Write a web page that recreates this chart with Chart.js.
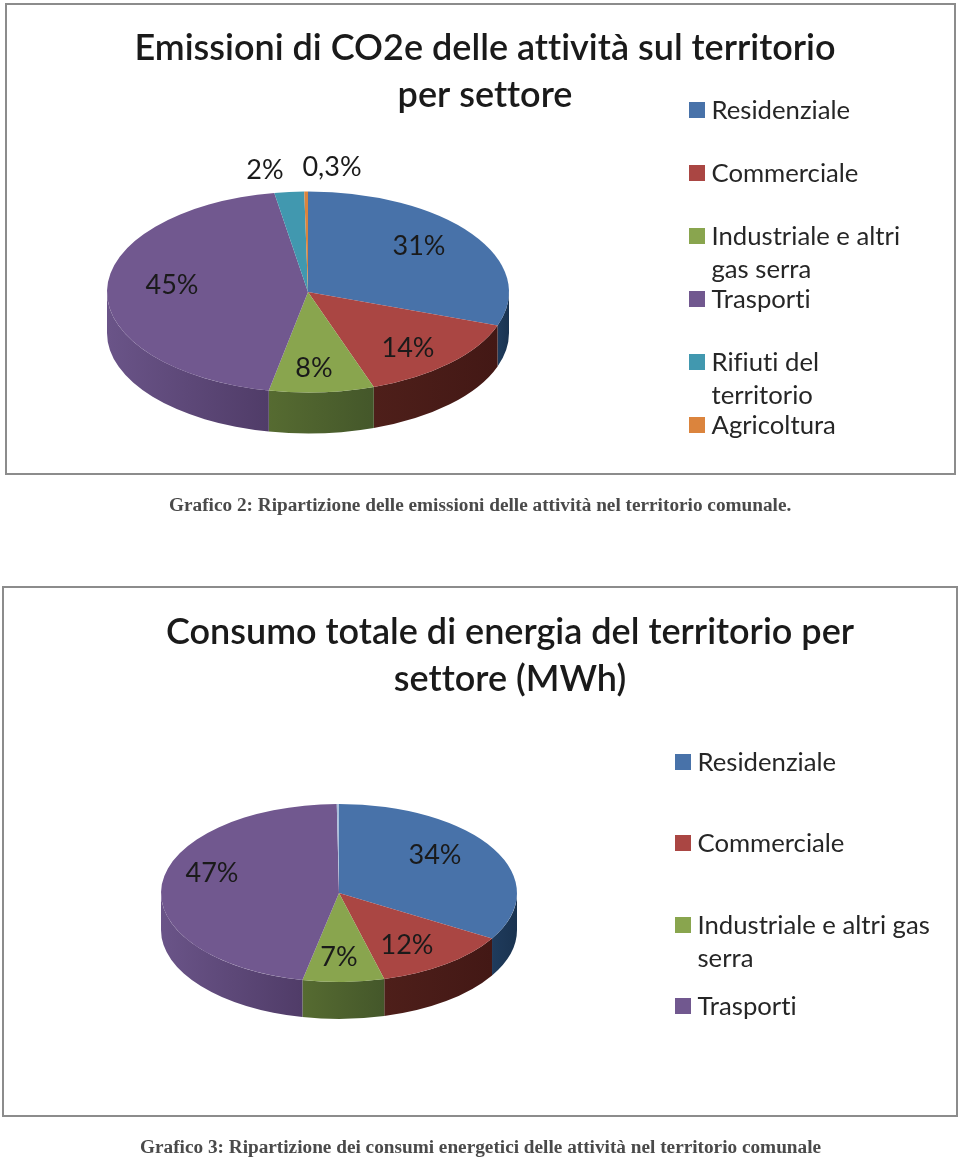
<!DOCTYPE html>
<html lang="it">
<head>
<meta charset="utf-8">
<title>Emissioni e consumi per settore</title>
<script src="https://cdn.jsdelivr.net/npm/chart.js@4/dist/chart.umd.min.js"></script>
<style>
    html, body { margin: 0; padding: 0; background: #fff; }
    body { position: relative; width: 960px; height: 1157px; overflow: hidden; }
    canvas { position: absolute; left: 0; }
    #emissioniChart { top: 0; }
    #consumiChart { top: 580px; }
    .frame { position: absolute; box-sizing: border-box; border: 2px solid #8c8c8c; }
    #frame1 { left: 5px; top: 3px; width: 951px; height: 472px; }
    #frame2 { left: 2px; top: 586px; width: 956px; height: 531px; }
    .caption {
        position: absolute; left: 0; margin: 0; white-space: nowrap;
        font: bold 19.25px "Liberation Serif", serif; color: #4a4a4a;
    }
    #caption1 { left: 169px; top: 494px; }
    #caption2 { left: 140px; top: 1136px; }
</style>
</head>
<body>
<div class="frame" id="frame1"></div>
<div class="frame" id="frame2"></div>
<canvas id="emissioniChart" width="960" height="580"></canvas>
<canvas id="consumiChart" width="960" height="577"></canvas>
<p class="caption" id="caption1">Grafico 2: Ripartizione delle emissioni delle attività nel territorio comunale.</p>
<p class="caption" id="caption2">Grafico 3: Ripartizione dei consumi energetici delle attività nel territorio comunale</p>

<script>
// Dati (valori stimati dalle fette, arrotondati danno le etichette)
const emissioniLegend = [['Residenziale'], ['Commerciale'], ['Industriale e altri', 'gas serra'], ['Trasporti'], ['Rifiuti del', 'territorio'], ['Agricoltura']];
const emissioniValues = [30.6, 14.4, 8.49, 44.5, 2.4, 0.3];
const emissioniLabels = ['31%', '14%', '8%', '45%', '2%', '0,3%'];
const emissioniTitle = ['Emissioni di CO2e delle attività sul territorio', 'per settore'];

const consumiLegend = [['Residenziale'], ['Commerciale'], ['Industriale e altri gas', 'serra'], ['Trasporti']];
const consumiValues = [33.6, 12.4, 7.4, 46.6, 0.2]; // l'ultima fetta sottilissima non ha voce in legenda
const consumiLabels = ['34%', '12%', '7%', '47%'];
const consumiTitle = ['Consumo totale di energia del territorio per', 'settore (MWh)'];

const sliceColors = ['#4872a9', '#aa4643', '#89a54e', '#71588f', '#4198af', '#db843d'];
const wallColors = [
    ['#1f3b5c', '#1a3350'], ['#4e1f1a', '#431815'], ['#566b31', '#44572a'],
    ['#6a5488', '#503c68'], ['#1f5a6c', '#1a4c5c'], ['#8a5020', '#7a4419']
];
const consumiColors = ['#4872a9', '#aa4643', '#89a54e', '#71588f', '#a9bfdc'];

const FONT = 'Lato, "Open Sans", sans-serif';

// Schiaccia la torta in un'ellisse e disegna il bordo 3D sotto le fette
const pie3dPlugin = {
    id: 'pie3d',
    afterLayout(chart, args, opts) {
        const title = chart.titleBlock;
        title.left = opts.titleX - 470;
        title.right = opts.titleX + 470;
        title.top = opts.titleY;
    },
    beforeDraw(chart) {
        // niente legature "tt" e "ti" di Lato
        chart.ctx.textRendering = 'optimizeSpeed';
    },
    beforeDatasetsDraw(chart, args, opts) {
        const ctx = chart.ctx;
        const arcs = chart.getDatasetMeta(0).data;
        const c = arcs[0];
        const rx = c.outerRadius;
        const ry = rx * opts.ratio;

        arcs.forEach((arc, i) => {
            const a0 = Math.max(arc.startAngle, 0);
            const a1 = Math.min(arc.endAngle, Math.PI);
            if (a1 <= a0) return;
            const x0 = opts.cx + rx * Math.cos(a1);
            const x1 = opts.cx + rx * Math.cos(a0);
            const colors = opts.walls[i % opts.walls.length];
            const grad = ctx.createLinearGradient(x0, 0, x1, 0);
            grad.addColorStop(0, colors[0]);
            grad.addColorStop(1, colors[1]);
            ctx.beginPath();
            ctx.ellipse(opts.cx, opts.cy, rx, ry, 0, a0, a1);
            ctx.ellipse(opts.cx, opts.cy + opts.depth, rx, ry, 0, a1, a0, true);
            ctx.closePath();
            ctx.fillStyle = grad;
            ctx.fill();
        });

        ctx.save();
        ctx.translate(opts.cx, opts.cy);
        ctx.scale(1, opts.ratio);
        ctx.translate(-c.x, -c.y);
    },
    afterDatasetsDraw(chart, args, opts) {
        const ctx = chart.ctx;
        ctx.restore();

        // Percentuali
        ctx.save();
        ctx.font = opts.labelFont;
        ctx.fillStyle = '#1a1a1a';
        ctx.textAlign = 'center';
        ctx.textBaseline = 'middle';
        opts.labelPos.forEach((pos, i) => {
            ctx.fillText(opts.labels[i], pos[0], pos[1]);
        });
        ctx.restore();

        // Legenda: le righe a capo non spostano la voce successiva
        ctx.save();
        ctx.font = opts.legendFont;
        ctx.textAlign = 'left';
        ctx.textBaseline = 'middle';
        opts.legendLines.forEach((lines, i) => {
            const y = opts.legendY[i];
            ctx.fillStyle = chart.data.datasets[0].backgroundColor[i];
            ctx.fillRect(opts.legendX, y - 8, 16, 16);
            ctx.fillStyle = '#262626';
            lines.forEach((line, k) => {
                ctx.fillText(line, opts.legendX + 22.5, y + 1 + k * 33);
            });
        });
        ctx.restore();
    }
};

function makePie(canvasId, legendLines, values, labels, colors, titleLines, pieOpts) {
    new Chart(document.getElementById(canvasId), {
        type: 'pie',
        data: {
            labels: legendLines.map(lines => lines.join(' ')),
            datasets: [{
                data: values,
                backgroundColor: colors,
                borderWidth: 0,
                radius: pieOpts.radius
            }]
        },
        options: {
            responsive: false,
            animation: false,
            layout: { padding: 0 },
            plugins: {
                legend: { display: false },
                tooltip: { enabled: false },
                title: {
                    display: true,
                    text: titleLines,
                    color: '#1a1a1a',
                    padding: 0,
                    font: { family: FONT, size: 36, weight: '600', lineHeight: 47 / 36 }
                },
                pie3d: Object.assign({ walls: wallColors, legendLines: legendLines, labels: labels }, pieOpts)
            }
        },
        plugins: [pie3dPlugin]
    });
}

document.addEventListener('DOMContentLoaded', function () {
    makePie('emissioniChart', emissioniLegend, emissioniValues, emissioniLabels, sliceColors, emissioniTitle, {
        radius: 201, cx: 308, cy: 292, ratio: 0.5, depth: 41,
        titleX: 485, titleY: 25,
        labelFont: '27px ' + FONT,
        labelPos: [[419, 246], [408, 348], [314, 368], [172, 285], [265, 170], [332, 167]],
        legendFont: '25.7px ' + FONT,
        legendX: 689,
        legendY: [110, 173, 236, 299, 362, 425]
    });

    makePie('consumiChart', consumiLegend, consumiValues, consumiLabels, consumiColors, consumiTitle, {
        radius: 178, cx: 339, cy: 313, ratio: 0.5, depth: 37,
        titleX: 510, titleY: 29,
        labelFont: '27px ' + FONT,
        labelPos: [[435, 275], [407, 365], [339, 377], [212, 293]],
        legendFont: '25.7px ' + FONT,
        legendX: 675,
        legendY: [182, 263, 345, 426]
    });
});
</script>
</body>
</html>
